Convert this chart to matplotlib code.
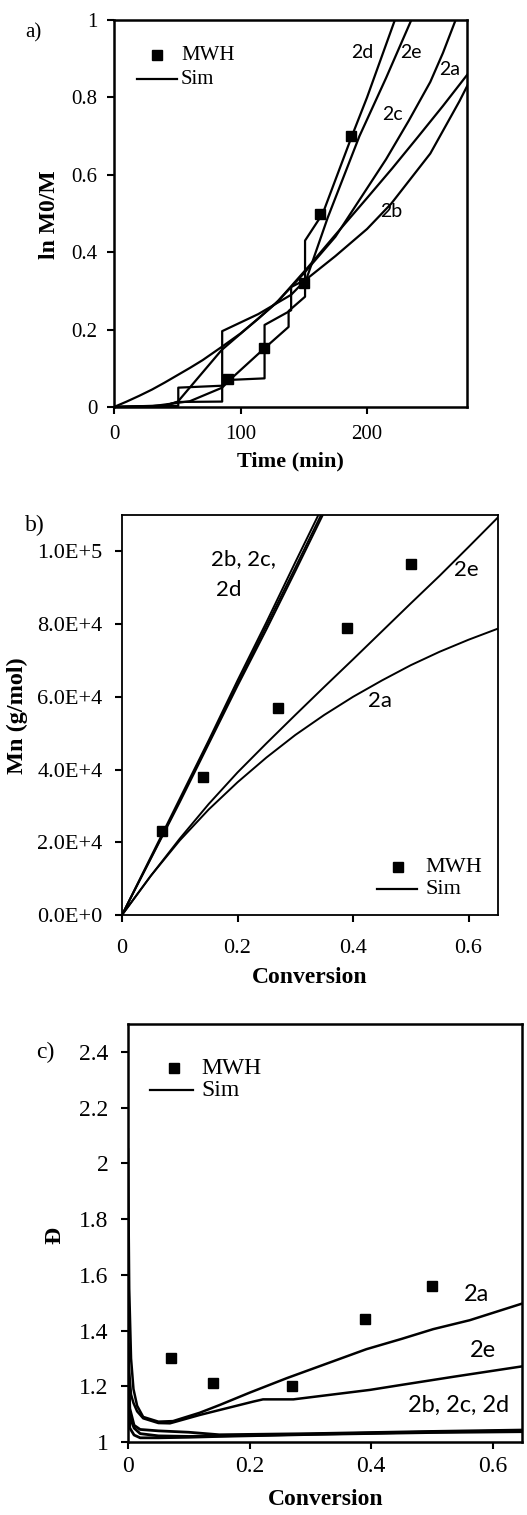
import matplotlib
matplotlib.use("Agg")
import matplotlib.pyplot as plt
from matplotlib.ticker import FuncFormatter, FixedLocator

# ---------------- data ----------------
# a) ln(M0/M) versus time
mwh_a_t = [90, 118.5, 150, 163, 187]
mwh_a_y = [0.072, 0.152, 0.32, 0.50, 0.70]

sim_a_2a_t = [0, 10, 20, 30, 40, 50, 60, 70, 85, 100, 114, 130, 153, 175, 200, 220, 240, 260, 280]
sim_a_2a_y = [0, 0.014, 0.029, 0.045, 0.063, 0.082, 0.101, 0.121, 0.155, 0.19, 0.228, 0.275,
              0.36, 0.445, 0.54, 0.617, 0.697, 0.778, 0.862]

sim_a_2b_t = [0, 40, 50.5, 85.5, 85.5, 114, 140, 152, 175, 200, 219, 250, 273, 280]
sim_a_2b_y = [0, 0.004, 0.013, 0.014, 0.196, 0.24, 0.29, 0.33, 0.39, 0.46, 0.525, 0.655, 0.79, 0.835]

sim_a_2c_t = [0, 40, 50.5, 85, 128, 150, 175, 199, 215, 233, 250, 260, 270]
sim_a_2c_y = [0, 0.003, 0.014, 0.147, 0.268, 0.345, 0.44, 0.56, 0.64, 0.74, 0.84, 0.915, 1.0]

sim_a_2d_t = [0, 30, 60, 85.5, 91.5, 119, 138, 138, 151, 151, 165, 188, 200, 222]
sim_a_2d_y = [0, 0.002, 0.015, 0.05, 0.07, 0.152, 0.207, 0.248, 0.285, 0.43, 0.50, 0.70, 0.80, 1.0]

sim_a_2e_t = [0, 50.8, 50.8, 85.5, 91.5, 119, 119, 140, 140, 152, 169, 194, 215, 235]
sim_a_2e_y = [0, 0.003, 0.05, 0.055, 0.07, 0.074, 0.212, 0.25, 0.31, 0.33, 0.49, 0.70, 0.85, 1.0]

# b) Mn versus conversion
mwh_b_x = [0.07, 0.14, 0.27, 0.39, 0.50]
mwh_b_mn = [2.3e4, 3.8e4, 5.7e4, 7.9e4, 9.65e4]

conv_b = [0, 0.05, 0.1, 0.15, 0.2, 0.25, 0.3, 0.35, 0.4, 0.45, 0.5, 0.55, 0.6, 0.65]
sim_b_2a = [0, 1.08e4, 2.05e4, 2.9e4, 3.65e4, 4.33e4, 4.95e4, 5.5e4, 6.0e4, 6.45e4, 6.87e4,
            7.24e4, 7.57e4, 7.87e4]
sim_b_2e = [0, 1.08e4, 2.1e4, 3.05e4, 3.92e4, 4.72e4, 5.5e4, 6.27e4, 7.03e4, 7.8e4, 8.57e4,
            9.33e4, 1.012e5, 1.092e5]
conv_b_fast = [0, 0.05, 0.1, 0.15, 0.2, 0.25, 0.3, 0.36]
sim_b_2b = [0, 1.55e4, 3.1e4, 4.7e4, 6.3e4, 7.85e4, 9.45e4, 1.14e5]
sim_b_2c = [0, 1.57e4, 3.14e4, 4.75e4, 6.36e4, 7.95e4, 9.55e4, 1.15e5]
sim_b_2d = [0, 1.6e4, 3.2e4, 4.8e4, 6.45e4, 8.05e4, 9.7e4, 1.165e5]

# c) dispersity versus conversion
mwh_c_x = [0.07, 0.14, 0.27, 0.39, 0.50]
mwh_c_d = [1.30, 1.21, 1.20, 1.44, 1.56]

conv_c_2a = [0, 0.002, 0.005, 0.009, 0.015, 0.025, 0.05, 0.074, 0.118, 0.151, 0.2, 0.261, 0.3,
             0.392, 0.45, 0.502, 0.562, 0.65]
sim_c_2a = [2.05, 1.55, 1.3, 1.19, 1.13, 1.09, 1.073, 1.075, 1.105, 1.133, 1.177, 1.229, 1.26,
            1.333, 1.37, 1.405, 1.437, 1.498]
conv_c_2e = [0, 0.002, 0.005, 0.009, 0.015, 0.025, 0.05, 0.069, 0.118, 0.151, 0.206, 0.222,
             0.272, 0.398, 0.45, 0.535, 0.65]
sim_c_2e = [1.40, 1.25, 1.17, 1.14, 1.11, 1.085, 1.068, 1.067, 1.097, 1.115, 1.145, 1.153,
            1.153, 1.187, 1.205, 1.234, 1.272]
conv_c_fast = [0, 0.003, 0.01, 0.02, 0.05, 0.1, 0.15, 0.3, 0.5, 0.65]
sim_c_2b = [1.35, 1.12, 1.06, 1.045, 1.04, 1.035, 1.026, 1.03, 1.038, 1.043]
sim_c_2c = [1.30, 1.09, 1.05, 1.03, 1.022, 1.02, 1.022, 1.028, 1.036, 1.040]
sim_c_2d = [1.20, 1.05, 1.025, 1.015, 1.015, 1.017, 1.02, 1.027, 1.034, 1.037]

# ---------------- styling ----------------
SERIF = "Liberation Serif"
SANS = "Lato"
W, H = 527, 1515

fig = plt.figure(figsize=(W / 100, H / 100), dpi=100)


def frac_box(left, top, right, bottom):
    return [left / W, 1 - bottom / H, (right - left) / W, (bottom - top) / H]


def style_axes(ax, size, xpad, ypad, spine_w=1.8):
    for s in ax.spines.values():
        s.set_linewidth(spine_w)
        s.set_color("black")
    ax.tick_params(direction="out", length=5, width=1.5, labelsize=size, colors="black")
    ax.tick_params(axis="x", pad=xpad)
    ax.tick_params(axis="y", pad=ypad)
    for lab in ax.get_xticklabels() + ax.get_yticklabels():
        lab.set_fontfamily(SERIF)


def add_legend(ax, mx, my, tx, lx0, lx1, ly, size, msize=6.5):
    # legend drawn in axes-fraction coordinates
    ax.plot([mx], [my], marker="s", color="black", markersize=msize,
            transform=ax.transAxes, clip_on=False)
    ax.text(tx, my, "MWH", transform=ax.transAxes, family=SERIF, fontsize=size,
            va="center", ha="left")
    ax.plot([lx0, lx1], [ly, ly], color="black", lw=1.6, transform=ax.transAxes)
    ax.text(tx, ly, "Sim", transform=ax.transAxes, family=SERIF, fontsize=size,
            va="center", ha="left")


LW = 1.6

# ---------------- panel a ----------------
axa = fig.add_axes(frac_box(114, 20, 467, 407))
for t, y in [(sim_a_2a_t, sim_a_2a_y), (sim_a_2b_t, sim_a_2b_y), (sim_a_2c_t, sim_a_2c_y),
             (sim_a_2d_t, sim_a_2d_y), (sim_a_2e_t, sim_a_2e_y)]:
    axa.plot(t, y, color="black", lw=LW)
axa.plot(mwh_a_t, mwh_a_y, "s", color="black", markersize=6.5, zorder=5)
axa.set_xlim(0, 279)
axa.set_ylim(0, 1)
axa.xaxis.set_major_locator(FixedLocator([0, 100, 200]))
axa.yaxis.set_major_locator(FixedLocator([0, 0.2, 0.4, 0.6, 0.8, 1.0]))
axa.yaxis.set_major_formatter(FuncFormatter(lambda v, p: "%g" % round(v, 2)))
style_axes(axa, 15, xpad=8, ypad=7)
axa.set_xlabel("Time (min)", family=SERIF, fontweight="bold", fontsize=16)
axa.set_ylabel("ln M0/M", family=SERIF, fontweight="bold", fontsize=17)
axa.xaxis.set_label_coords(0.499, -0.116)
axa.yaxis.set_label_coords(-0.153, 0.496)
for txt, tx, ty in [("2d", 196.5, 0.917), ("2e", 235, 0.917), ("2a", 265, 0.871),
                    ("2c", 220, 0.755), ("2b", 219, 0.505)]:
    axa.text(tx, ty, txt, family=SANS, fontsize=14, ha="center", va="center")
add_legend(axa, 43 / 353, 1 - 35 / 387, 67 / 353, 23 / 353, 63 / 353, 1 - 59 / 387, 15)
fig.text(33 / W, 1 - 33 / H, "a)", family=SERIF, fontsize=15, ha="center", va="center")

# ---------------- panel b ----------------
axb = fig.add_axes(frac_box(122, 515, 498, 915))
axb.plot(conv_b, sim_b_2a, color="black", lw=1.4)
axb.plot(conv_b, sim_b_2e, color="black", lw=1.4)
for yv in (sim_b_2b, sim_b_2c, sim_b_2d):
    axb.plot(conv_b_fast, yv, color="black", lw=1.4)
axb.plot(mwh_b_x, mwh_b_mn, "s", color="black", markersize=6.5, zorder=5)
axb.set_xlim(0, 0.651)
axb.set_ylim(0, 1.1e5)
axb.xaxis.set_major_locator(FixedLocator([0, 0.2, 0.4, 0.6]))
axb.xaxis.set_major_formatter(FuncFormatter(lambda v, p: "%g" % round(v, 2)))
axb.yaxis.set_major_locator(FixedLocator([0, 2e4, 4e4, 6e4, 8e4, 1e5]))


def sci_fmt(v, p):
    if v == 0:
        return "0.0E+0"
    e = 0
    m = v
    while abs(m) >= 10:
        m /= 10
        e += 1
    return "%.1fE+%d" % (m, e)


axb.yaxis.set_major_formatter(FuncFormatter(sci_fmt))
style_axes(axb, 16, xpad=12, ypad=9, spine_w=1.3)
axb.set_xlabel("Conversion", family=SERIF, fontweight="bold", fontsize=17)
axb.set_ylabel("Mn (g/mol)", family=SERIF, fontweight="bold", fontsize=17.5)
axb.xaxis.set_label_coords(0.5, -0.13)
axb.yaxis.set_label_coords(-0.25, 0.4975)
axb.text(0.211, 9.78e4, "2b, 2c,", family=SANS, fontsize=16, ha="center", va="center")
axb.text(0.184, 8.95e4, "2d", family=SANS, fontsize=16, ha="center", va="center")
axb.text(0.597, 9.5e4, "2e", family=SANS, fontsize=16, ha="center", va="center")
axb.text(0.447, 5.88e4, "2a", family=SANS, fontsize=16, ha="center", va="center")
add_legend(axb, 276 / 376, 48 / 400, 303 / 376, 255 / 376, 295 / 376, 26 / 400, 16)
fig.text(35 / W, 1 - 525 / H, "b)", family=SERIF, fontsize=17, ha="center", va="center")

# ---------------- panel c ----------------
axc = fig.add_axes(frac_box(128, 1024, 522, 1442))
axc.plot(conv_c_2a, sim_c_2a, color="black", lw=1.8)
axc.plot(conv_c_2e, sim_c_2e, color="black", lw=1.8)
for yv in (sim_c_2b, sim_c_2c, sim_c_2d):
    axc.plot(conv_c_fast, yv, color="black", lw=2.0)
axc.plot(mwh_c_x, mwh_c_d, "s", color="black", markersize=7, zorder=5)
axc.set_xlim(0, 0.648)
axc.set_ylim(1, 2.5)
axc.xaxis.set_major_locator(FixedLocator([0, 0.2, 0.4, 0.6]))
axc.xaxis.set_major_formatter(FuncFormatter(lambda v, p: "%g" % round(v, 2)))
axc.yaxis.set_major_locator(FixedLocator([1, 1.2, 1.4, 1.6, 1.8, 2.0, 2.2, 2.4]))
axc.yaxis.set_major_formatter(FuncFormatter(lambda v, p: "%g" % round(v, 2)))
style_axes(axc, 17, xpad=5, ypad=9)
axc.set_xlabel("Conversion", family=SERIF, fontweight="bold", fontsize=17)
axc.set_ylabel("Đ", family=SERIF, fontweight="bold", fontsize=17)
axc.xaxis.set_label_coords(0.503, -0.112)
axc.yaxis.set_label_coords(-0.16, 0.495)
axc.text(0.573, 1.528, "2a", family=SANS, fontsize=17, ha="center", va="center")
axc.text(0.584, 1.33, "2e", family=SANS, fontsize=17, ha="center", va="center")
axc.text(0.543, 1.133, "2b, 2c, 2d", family=SANS, fontsize=17, ha="center", va="center")
add_legend(axc, 46 / 394, 1 - 44 / 418, 73 / 394, 22 / 394, 65 / 394, 1 - 66 / 418, 17, 7)
fig.text(45 / W, 1 - 1052 / H, "c)", family=SERIF, fontsize=17, ha="center", va="center")

fig.savefig("out.png", dpi=100, facecolor="white")
